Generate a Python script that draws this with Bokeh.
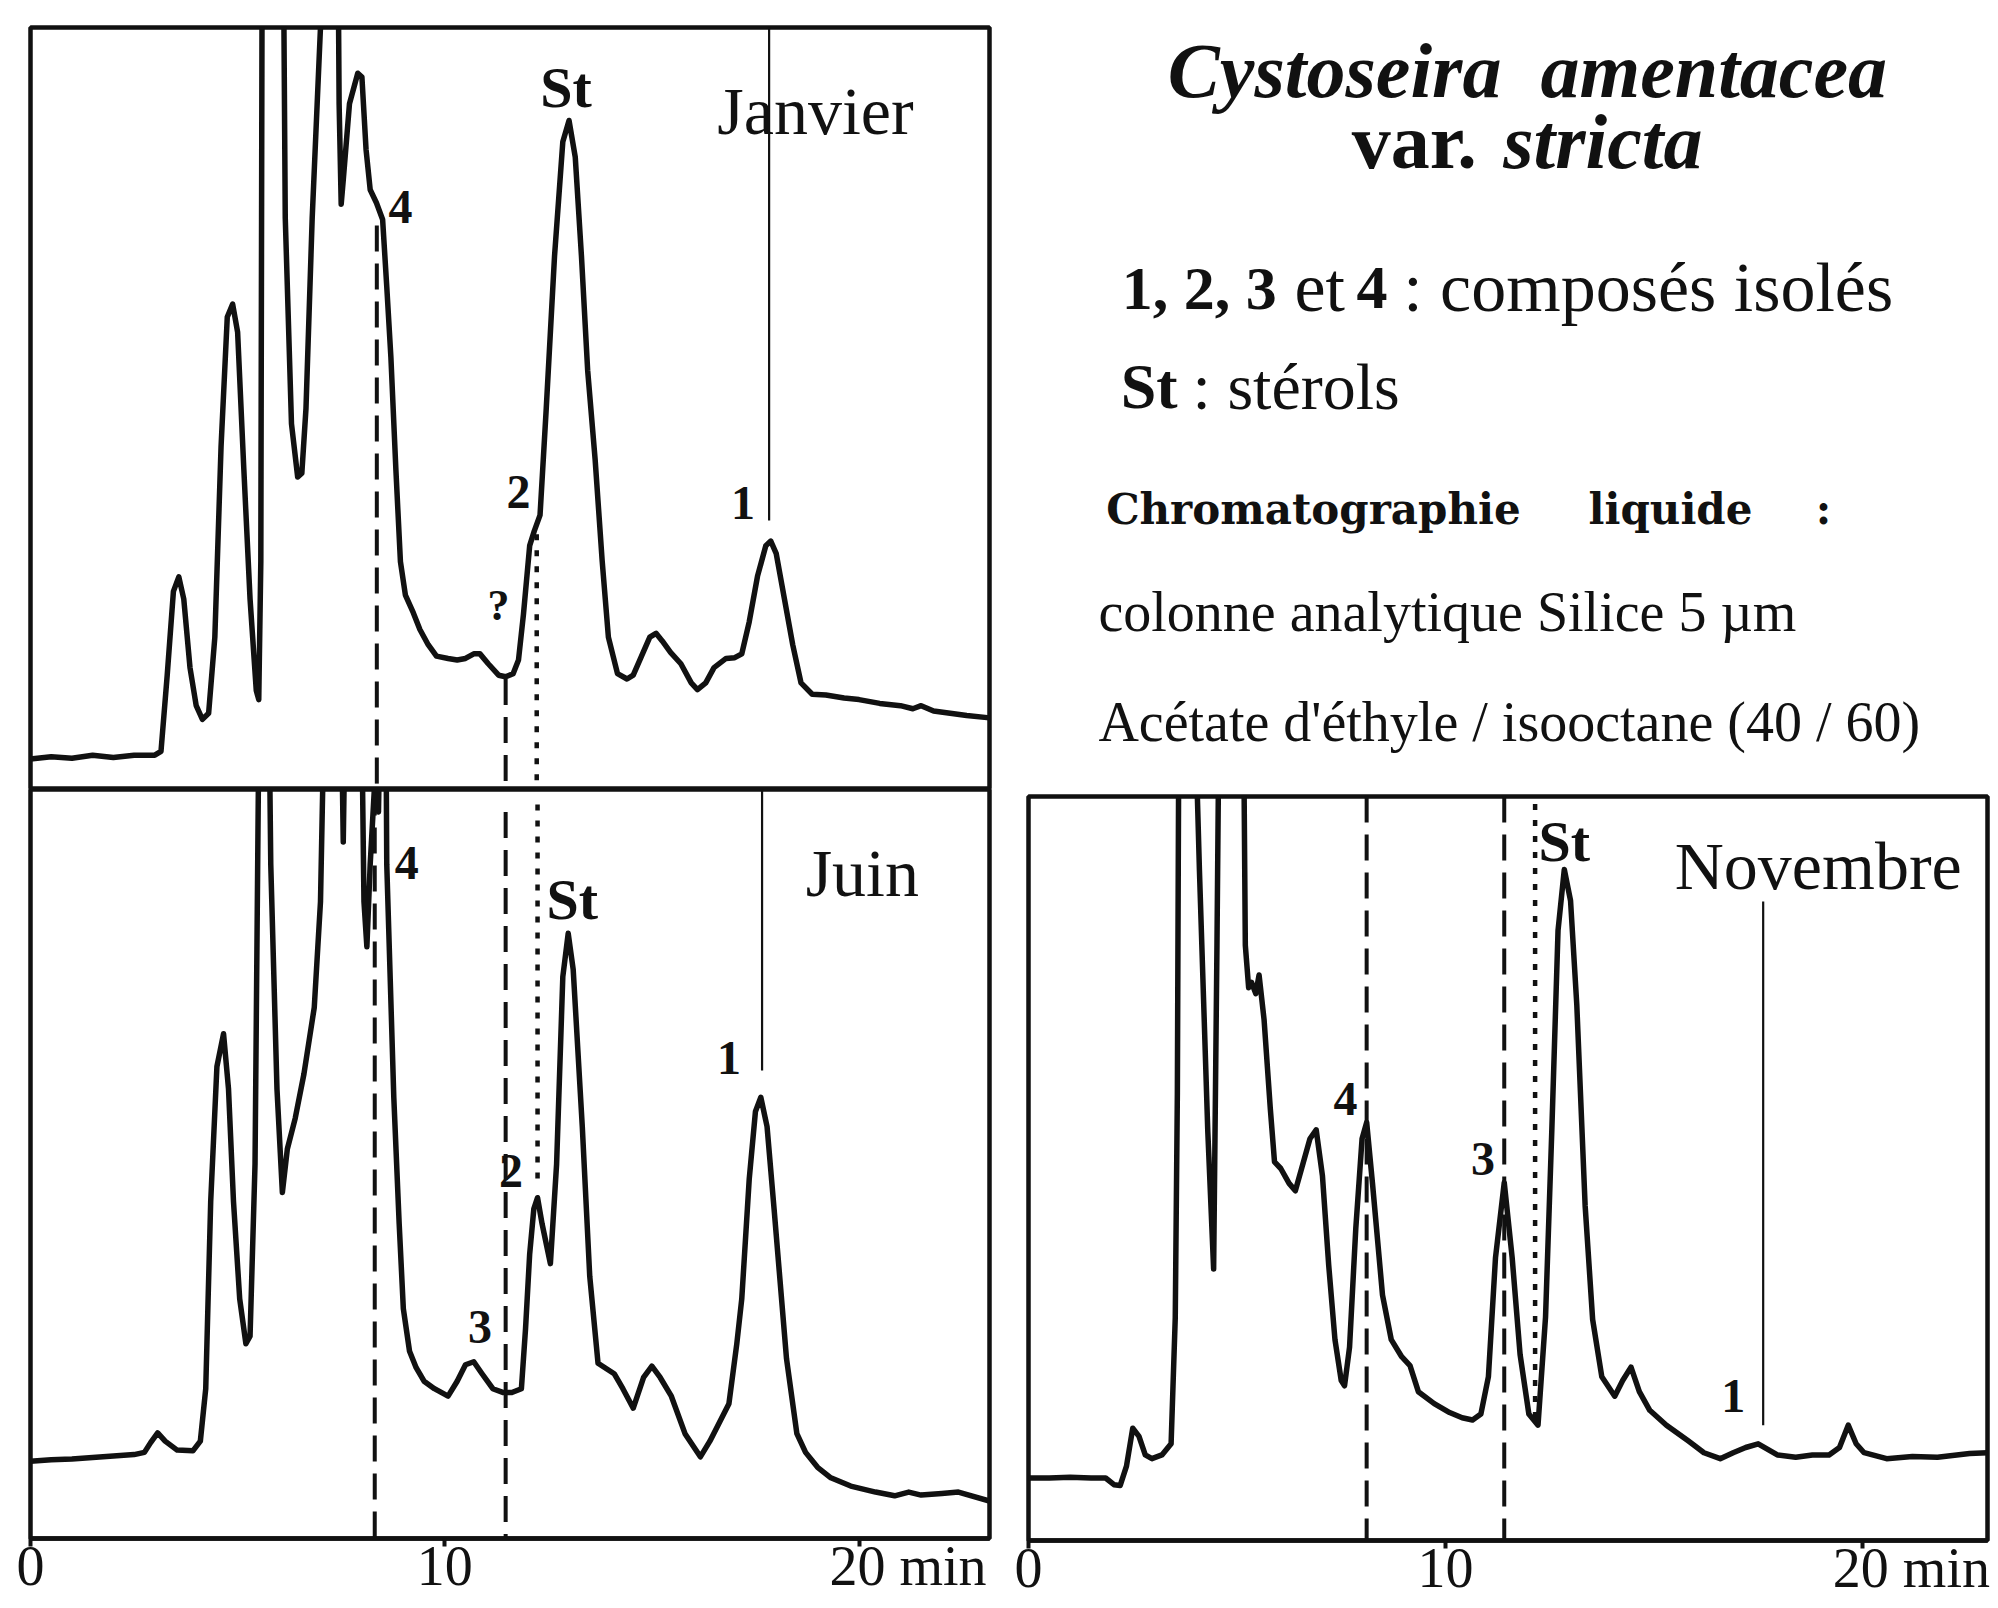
from bokeh.plotting import figure
from bokeh.models import Range1d, Label, FixedTicker, LinearAxis
from bokeh.layouts import row, column
from bokeh.embed import file_html
from bokeh.resources import INLINE

SERIF = "Liberation Serif"

# ---------------- data (retention time in min, detector response as fraction of panel height)
jan_t = [0.0, 0.5, 1.0, 1.5, 2.0, 2.5, 3.0, 3.15, 3.3, 3.45, 3.58, 3.7, 3.85, 4.0, 4.15, 4.3, 4.45,
         4.6, 4.75, 4.88, 5.0, 5.15, 5.3, 5.45, 5.51, 5.56, 5.6, 6.08, 6.15, 6.3, 6.45, 6.55, 6.65,
         6.8, 7.0, 7.08, 7.4, 7.45, 7.5, 7.55, 7.7, 7.9, 8.0, 8.1, 8.2, 8.35, 8.5, 8.6, 8.7, 8.82,
         8.93, 9.05, 9.24, 9.4, 9.6, 9.8, 10.08, 10.3, 10.5, 10.7, 10.85, 11.05, 11.3, 11.47, 11.65,
         11.78, 11.9, 12.05, 12.16, 12.3, 12.45, 12.65, 12.85, 13.0, 13.15, 13.3, 13.45, 13.63, 13.8,
         13.95, 14.17, 14.4, 14.55, 14.75, 14.95, 15.1, 15.25, 15.45, 15.7, 15.95, 16.1, 16.3, 16.5,
         16.79, 17.0, 17.17, 17.35, 17.55, 17.75, 17.87, 18.0, 18.2, 18.4, 18.6, 18.87, 19.2, 19.64,
         20.0, 20.5, 21.0, 21.3, 21.5, 21.8, 22.2, 22.6, 23.15]
jan_y = [0.040, 0.043, 0.041, 0.045, 0.042, 0.045, 0.045, 0.05, 0.15, 0.26, 0.279, 0.25, 0.16, 0.11,
         0.092, 0.10, 0.20, 0.45, 0.62, 0.637, 0.60, 0.42, 0.25, 0.13, 0.118, 0.30, 1.3, 1.3, 0.75,
         0.48, 0.41, 0.415, 0.50, 0.75, 1.0, 1.3, 1.3, 0.90, 0.768, 0.80, 0.90, 0.94, 0.935, 0.84,
         0.787, 0.77, 0.748, 0.66, 0.567, 0.42, 0.299, 0.255, 0.232, 0.21, 0.19, 0.175, 0.172, 0.17,
         0.172, 0.178, 0.178, 0.165, 0.15, 0.148, 0.152, 0.17, 0.23, 0.32, 0.339, 0.36, 0.50, 0.70,
         0.85, 0.878, 0.83, 0.70, 0.55, 0.433, 0.30, 0.20, 0.152, 0.145, 0.15, 0.175, 0.20, 0.205,
         0.195, 0.18, 0.165, 0.14, 0.131, 0.14, 0.16, 0.172, 0.173, 0.178, 0.22, 0.28, 0.32, 0.326,
         0.31, 0.25, 0.19, 0.14, 0.125, 0.124, 0.12, 0.118, 0.113, 0.11, 0.106, 0.11, 0.103, 0.10,
         0.097, 0.094]

jun_t = [0.0, 0.5, 1.0, 1.5, 2.0, 2.5, 2.75, 2.9, 3.07, 3.25, 3.54, 3.92, 4.1, 4.23, 4.35, 4.5, 4.66,
         4.78, 4.9, 5.05, 5.2, 5.3, 5.42, 5.5, 5.54, 5.72, 5.8, 5.95, 6.08, 6.2, 6.39, 6.6, 6.85, 7.0,
         7.16, 7.45, 7.55, 7.65, 7.95, 8.05, 8.12, 8.2, 8.3, 8.4, 8.5, 8.56, 8.6, 8.77, 8.9, 9.0,
         9.15, 9.31, 9.5, 9.75, 10.08, 10.3, 10.5, 10.7, 10.9, 11.16, 11.4, 11.62, 11.85, 11.95,
         12.05, 12.15, 12.24, 12.35, 12.55, 12.7, 12.85, 12.98, 13.1, 13.32, 13.5, 13.7, 14.09, 14.3,
         14.55, 14.8, 15.0, 15.2, 15.47, 15.8, 16.17, 16.4, 16.86, 17.05, 17.17, 17.35, 17.5, 17.63,
         17.78, 17.95, 18.25, 18.5, 18.71, 19.0, 19.32, 19.8, 20.4, 20.86, 21.2, 21.5, 22.0, 22.4,
         23.15]
jun_y = [0.103, 0.105, 0.106, 0.108, 0.11, 0.112, 0.115, 0.128, 0.141, 0.13, 0.118, 0.117, 0.13,
         0.20, 0.45, 0.63, 0.674, 0.60, 0.45, 0.32, 0.26, 0.27, 0.50, 1.0, 1.3, 1.3, 0.90, 0.60,
         0.462, 0.52, 0.561, 0.62, 0.709, 0.85, 1.3, 1.3, 0.93, 1.3, 1.3, 0.85, 0.79, 0.90, 1.0,
         0.97, 1.3, 1.3, 0.90, 0.589, 0.42, 0.307, 0.25, 0.228, 0.21, 0.20, 0.19, 0.21, 0.232,
         0.236, 0.22, 0.20, 0.195, 0.195, 0.20, 0.28, 0.38, 0.44, 0.455, 0.42, 0.367, 0.50, 0.75,
         0.808, 0.76, 0.55, 0.35, 0.234, 0.22, 0.20, 0.174, 0.215, 0.23, 0.215, 0.19, 0.14, 0.109,
         0.13, 0.18, 0.26, 0.32, 0.48, 0.57, 0.589, 0.55, 0.44, 0.24, 0.14, 0.115, 0.095, 0.081,
         0.07, 0.062, 0.057, 0.062, 0.058, 0.06, 0.062, 0.05]

nov_t = [0.0, 0.5, 1.0, 1.5, 1.85, 2.05, 2.2, 2.35, 2.5, 2.65, 2.8, 2.96, 3.2, 3.42, 3.52, 3.57, 3.62,
         3.9, 4.1, 4.3, 4.44, 4.52, 4.6, 5.13, 5.2, 5.28, 5.35, 5.45, 5.53, 5.65, 5.8, 5.9, 6.05,
         6.25, 6.4, 6.55, 6.75, 6.9, 7.05, 7.2, 7.35, 7.5, 7.58, 7.7, 7.85, 8.0, 8.11, 8.25, 8.49,
         8.7, 8.95, 9.15, 9.35, 9.73, 10.1, 10.4, 10.65, 10.85, 11.03, 11.2, 11.41, 11.6, 11.79,
         12.0, 12.22, 12.4, 12.55, 12.7, 12.85, 13.0, 13.15, 13.35, 13.53, 13.75, 14.06, 14.25,
         14.45, 14.65, 14.9, 15.3, 15.82, 16.2, 16.59, 16.9, 17.2, 17.5, 17.96, 18.4, 18.8, 19.2,
         19.45, 19.66, 19.85, 20.04, 20.58, 21.2, 21.8, 22.57, 23.0]
nov_y = [0.084, 0.084, 0.085, 0.084, 0.084, 0.075, 0.074, 0.10, 0.151, 0.14, 0.115, 0.11, 0.115,
         0.13, 0.30, 0.60, 1.3, 1.3, 0.90, 0.55, 0.365, 0.80, 1.3, 1.3, 0.80, 0.743, 0.75, 0.735,
         0.76, 0.70, 0.58, 0.509, 0.50, 0.48, 0.47, 0.50, 0.54, 0.552, 0.49, 0.37, 0.27, 0.215,
         0.208, 0.26, 0.42, 0.54, 0.562, 0.48, 0.33, 0.27, 0.247, 0.235, 0.20, 0.184, 0.172, 0.165,
         0.162, 0.17, 0.22, 0.38, 0.481, 0.38, 0.25, 0.17, 0.155, 0.30, 0.55, 0.82, 0.902, 0.86,
         0.72, 0.45, 0.297, 0.22, 0.194, 0.215, 0.233, 0.20, 0.175, 0.155, 0.134, 0.118, 0.11, 0.118,
         0.125, 0.13, 0.115, 0.112, 0.115, 0.115, 0.125, 0.155, 0.13, 0.118, 0.11, 0.113, 0.112,
         0.117, 0.118]

x_ticks = [0, 10, 20]
x_tick_labels = ["0", "10", "20"]
x_unit = "min"

# marker lines: (time, top, bottom)
jan_dashed = [(8.36, 0.74, 0.0), (11.47, 0.145, 0.0)]
jan_dotted = [(12.22, 0.335, 0.0)]
jan_solid = [(17.83, 1.0, 0.353)]
jun_dashed = [(8.31, 1.0, 0.0), (11.47, 0.97, 0.0)]
jun_dotted = [(12.24, 0.98, 0.47)]
jun_solid = [(17.66, 1.0, 0.625)]
nov_dashed = [(8.11, 1.0, 0.0), (11.41, 1.0, 0.0)]
nov_dotted = [(12.15, 0.99, 0.16)]
nov_solid = [(17.62, 0.859, 0.155)]

# peak labels: (text, time, level, size, bold)
jan_labels = [("St", 12.93, 0.921, 58, True), ("4", 8.93, 0.764, 48, True), ("2", 11.78, 0.39, 48, True),
              ("?", 11.3, 0.241, 44, True), ("1", 17.2, 0.376, 48, True), ("Janvier", 18.95, 0.891, 68, False)]
jun_labels = [("St", 13.08, 0.853, 58, True), ("4", 9.08, 0.902, 48, True), ("2", 11.6, 0.49, 48, True),
              ("3", 10.85, 0.283, 48, True), ("1", 16.86, 0.642, 48, True), ("Juin", 20.08, 0.889, 68, False)]
nov_labels = [("St", 12.85, 0.94, 58, True), ("4", 7.6, 0.594, 48, True), ("3", 10.9, 0.513, 48, True),
              ("1", 16.9, 0.194, 48, True), ("Novembre", 18.94, 0.907, 68, False)]

INK = "#111111"


def panel(width, height, mbl, mbr, mbt, mbb, xmax):
    p = figure(width=width, height=height, x_range=Range1d(0, xmax), y_range=Range1d(0, 1),
               output_backend="svg", toolbar_location=None, x_axis_type=None, y_axis_type=None,
               min_border_left=mbl, min_border_right=mbr, min_border_top=mbt, min_border_bottom=mbb)
    p.outline_line_color = INK
    p.outline_line_width = 4.5
    p.background_fill_color = "white"
    p.border_fill_color = "white"
    return p


def add_trace(p, t, y):
    p.line(t, y, line_color=INK, line_width=5.5, line_join="round", line_cap="round")


def add_markers(p, dashed, dotted, solid):
    for (x, y0, y1) in dashed:
        p.segment(x0=[x], y0=[y0], x1=[x], y1=[y1], line_color=INK, line_width=4, line_dash="26 12")
    for (x, y0, y1) in dotted:
        p.segment(x0=[x], y0=[y0], x1=[x], y1=[y1], line_color=INK, line_width=4.5, line_dash="6 10")
    for (x, y0, y1) in solid:
        p.segment(x0=[x], y0=[y0], x1=[x], y1=[y1], line_color=INK, line_width=2.2)


def add_labels(p, labels):
    for (txt, x, y, size, bold) in labels:
        p.add_layout(Label(x=x, y=y, text=txt, text_font=SERIF, text_font_size=f"{size}px",
                           text_font_style="bold" if bold else "normal", text_color=INK,
                           text_align="center", text_baseline="middle"))


# the unit follows the last tick label; figure spaces on the left keep the number centred on its tick
PAD = "\u2007\u2007\u2007\u2005"


def add_axis(p):
    overrides = {t: lab for t, lab in zip(x_ticks, x_tick_labels)}
    overrides[x_ticks[-1]] = PAD + x_tick_labels[-1] + " " + x_unit
    ax = LinearAxis(ticker=FixedTicker(ticks=x_ticks), major_label_overrides=overrides,
                    major_label_text_font=SERIF, major_label_text_font_size="56px",
                    major_label_text_color=INK, major_label_standoff=-12,
                    axis_line_color=INK, axis_line_width=4.5,
                    major_tick_line_color=INK, major_tick_line_width=4, major_tick_out=8,
                    major_tick_in=0, minor_tick_line_color=None)
    p.add_layout(ax, "below")


# ---------------- Janvier
p_jan = panel(1008, 789, 30, 19, 27, 0, 23.15)
add_markers(p_jan, jan_dashed, jan_dotted, jan_solid)
add_trace(p_jan, jan_t, jan_y)
add_labels(p_jan, jan_labels)

# ---------------- Juin
p_jun = panel(1008, 817, 30, 19, 0, 68, 23.15)
add_markers(p_jun, jun_dashed, jun_dotted, jun_solid)
add_trace(p_jun, jun_t, jun_y)
add_labels(p_jun, jun_labels)
add_axis(p_jun)

# ---------------- Novembre
p_nov = panel(988, 812, 20, 9, 2, 66, 23.0)
add_markers(p_nov, nov_dashed, nov_dotted, nov_solid)
add_trace(p_nov, nov_t, nov_y)
add_labels(p_nov, nov_labels)
add_axis(p_nov)

# ---------------- text block
p_txt = figure(width=988, height=794, x_range=Range1d(0, 988), y_range=Range1d(794, 0),
               output_backend="svg", toolbar_location=None, x_axis_type=None, y_axis_type=None,
               min_border=0)
p_txt.outline_line_color = None
p_txt.background_fill_color = "white"
p_txt.border_fill_color = "white"


def tl(x, y, text, size, style="normal", align="left", font=SERIF):
    p_txt.add_layout(Label(x=x, y=y, text=text, text_font=font, text_font_size=f"{size}px",
                           text_font_style=style, text_color=INK, text_align=align,
                           text_baseline="alphabetic"))


tl(514, 70, "Cystoseira\u00a0\u00a0amentacea", 78, "bold italic", "center")
tl(333, 141, "var.", 78, "bold")
tl(489, 141, "stricta", 78, "bold italic")
tl(96, 287, "1, 2, 3", 62, "bold")
tl(274, 287, "et", 70)
tl(338, 287, "4", 62, "bold")
tl(386, 287, ": composés isolés", 70)
tl(95, 386, "St", 64, "bold")
tl(169, 386, ": stérols", 66)
tl(80, 509, "Chromatographie", 42, "bold", font="DejaVu Serif")
tl(577, 509, "liquide", 42, "bold", font="DejaVu Serif")
tl(811, 509, ":", 42, "bold", font="DejaVu Serif")
tl(72, 611, "colonne analytique Silice 5 µm", 56)
tl(72, 721, "Acétate d'éthyle / isooctane (40 / 60)", 56)

layout = row(column(p_jan, p_jun, spacing=0), column(p_txt, p_nov, spacing=0), spacing=0)

open("out.html", "w").write(file_html(layout, INLINE))
